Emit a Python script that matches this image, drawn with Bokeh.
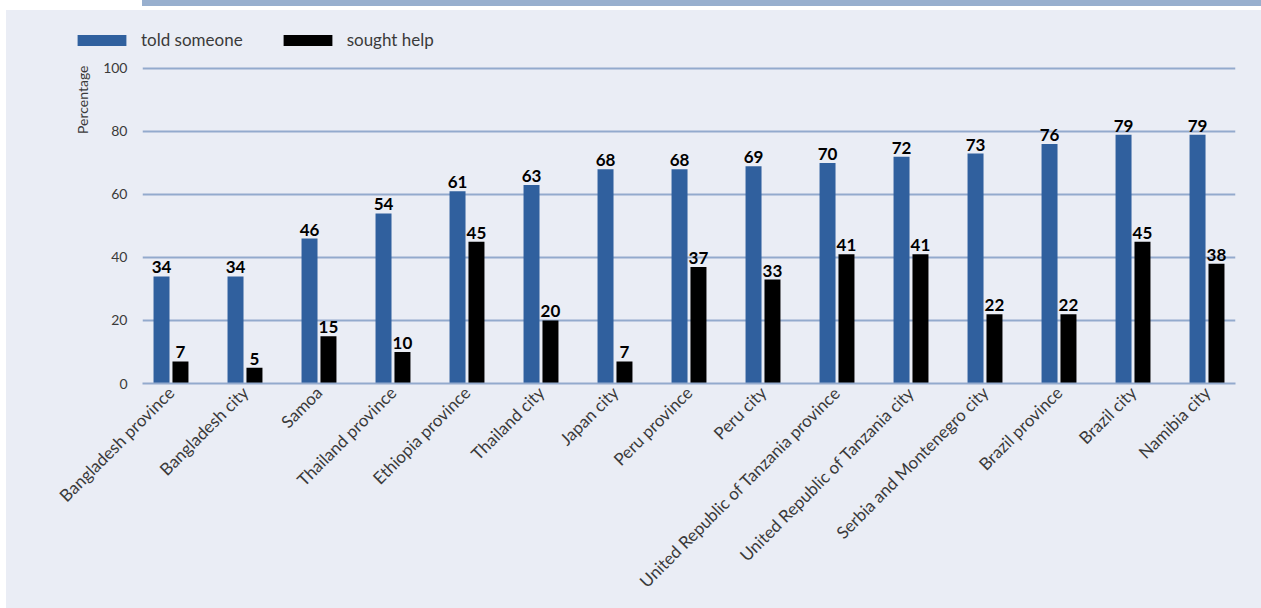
import math
from bokeh.plotting import figure
from bokeh.models import (ColumnDataSource, Range1d, FixedTicker, LabelSet, Title,
                          Legend, LegendItem, Div)
from bokeh.layouts import column, row
from bokeh.embed import file_html
from bokeh.resources import INLINE
from bokeh.core.properties import value

categories = ["Bangladesh province", "Bangladesh city", "Samoa", "Thailand province",
              "Ethiopia province", "Thailand city", "Japan city", "Peru province",
              "Peru city", "United Republic of Tanzania province",
              "United Republic of Tanzania city", "Serbia and Montenegro city",
              "Brazil province", "Brazil city", "Namibia city"]
told_someone = [34, 34, 46, 54, 61, 63, 68, 68, 69, 70, 72, 73, 76, 79, 79]
sought_help = [7, 5, 15, 10, 45, 20, 7, 37, 33, 41, 41, 22, 22, 45, 38]
y_ticks = [0, 20, 40, 60, 80, 100]
series_names = ["told someone", "sought help"]

BG = "#EAEDF5"
BLUE = "#30609E"
GRID = "#93AACD"
TXT = "#3a3a3a"
FONT = "Lato"

idx = list(range(len(categories)))
off = 0.128
src = ColumnDataSource(dict(
    xb=[i - off for i in idx], xk=[i + off for i in idx],
    told=told_someone, sought=sought_help,
    told_lbl=[str(v) for v in told_someone], sought_lbl=[str(v) for v in sought_help],
))

# ---- legend strip: separate figure; its bars sit below its visible y range ----
lg = figure(width=1255, height=45, x_range=Range1d(-0.385, 14.385), y_range=Range1d(1000, 1001),
            x_axis_type=None, y_axis_type=None, title=None,
            output_backend="svg", toolbar_location=None, min_border=0,
            background_fill_color=BG, border_fill_color=BG, outline_line_color=None)
lg.xgrid.visible = False
lg.ygrid.visible = False
d1 = lg.vbar(x="xb", top="told", width=0.216, source=src, fill_color=BLUE, line_color=None)
d2 = lg.vbar(x="xk", top="sought", width=0.216, source=src, fill_color="black", line_color=None)
legend = Legend(items=[LegendItem(label=series_names[0], renderers=[d1]),
                       LegendItem(label=series_names[1], renderers=[d2])],
                orientation="horizontal", location=(65, 5),
                glyph_width=61, glyph_height=14, label_standoff=9, spacing=34,
                padding=0, margin=0, border_line_color=None, background_fill_alpha=0,
                label_text_font=FONT, label_text_font_size="17px", label_text_color=TXT)
lg.add_layout(legend, "center")

# ---- main chart ----
p = figure(width=1255, height=553, x_range=Range1d(-0.385, 14.385), y_range=Range1d(0, 100.95),
           title=None, output_backend="svg", toolbar_location=None,
           min_border_left=136, min_border_right=26, min_border_top=10, min_border_bottom=225,
           background_fill_color=BG, border_fill_color=BG, outline_line_color=None)

p.vbar(x="xb", top="told", width=0.216, source=src, fill_color=BLUE, line_color=None)
p.vbar(x="xk", top="sought", width=0.216, source=src, fill_color="black", line_color=None)

for xf, yf, tf in (("xb", "told", "told_lbl"), ("xk", "sought", "sought_lbl")):
    p.add_layout(LabelSet(x=xf, y=yf, text=tf, source=src, y_offset=3,
                          text_align="center", text_baseline="bottom",
                          text_font=value(FONT), text_font_style="bold",
                          text_font_size="17px", text_color="black"))

p.xgrid.grid_line_color = None
p.ygrid.grid_line_color = GRID
p.ygrid.grid_line_width = 2
p.ygrid.ticker = FixedTicker(ticks=y_ticks)

xa = p.xaxis[0]
xa.ticker = FixedTicker(ticks=idx)
xa.major_label_overrides = {i: c for i, c in enumerate(categories)}
xa.major_label_orientation = math.pi / 4
xa.major_tick_line_color = None
xa.minor_tick_line_color = None
xa.major_tick_out = 0
xa.major_tick_in = 0
xa.axis_line_color = GRID
xa.axis_line_width = 2
xa.major_label_standoff = 6
xa.major_label_text_font = FONT
xa.major_label_text_font_size = "17px"
xa.major_label_text_color = TXT

ya = p.yaxis[0]
ya.ticker = FixedTicker(ticks=y_ticks)
ya.axis_line_color = None
ya.major_tick_line_color = None
ya.minor_tick_line_color = None
ya.major_tick_out = 0
ya.major_tick_in = 0
ya.major_label_standoff = 15
ya.major_label_text_font = FONT
ya.major_label_text_font_size = "14px"
ya.major_label_text_color = TXT

ytitle = Title(text="Percentage", align="right", text_font=FONT, text_font_size="14px",
               text_font_style="normal", text_color=TXT, offset=0, standoff=20)
p.add_layout(ytitle, "left")

strip = Div(text="", width=1119, height=6, margin=(0, 0, 4, 142),
            styles={"background-color": "#98AFCE"})
panel = column(row(lg), p, spacing=0, margin=(0, 0, 0, 6),
               styles={"background-color": BG})
layout = column(strip, panel, spacing=0)

open("out.html", "w").write(file_html(layout, INLINE))
